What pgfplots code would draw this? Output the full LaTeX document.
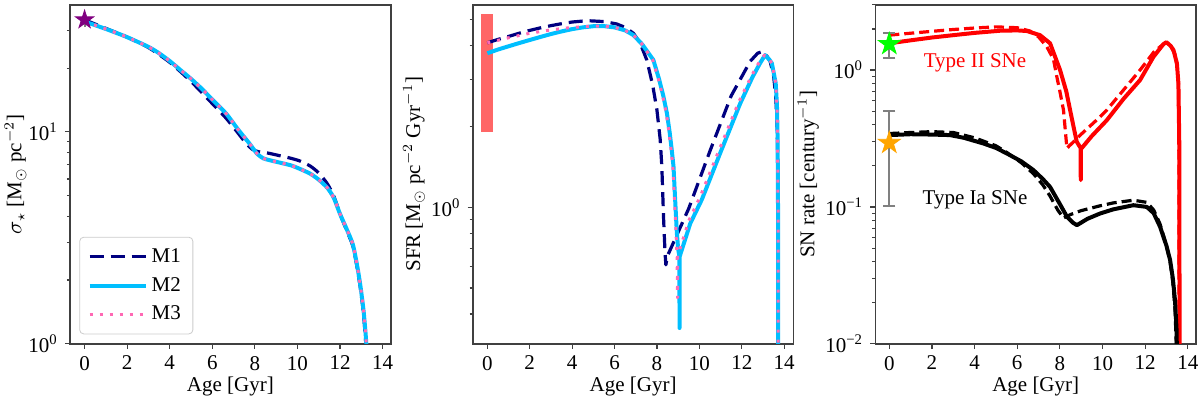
\documentclass[border=0pt]{standalone}
\usepackage{fontspec}
\setmainfont{Liberation Serif}
\usepackage{pgfplots}
\pgfplotsset{compat=1.18}

\definecolor{mone}{RGB}{0,0,128}
\definecolor{mtwo}{RGB}{0,191,255}
\definecolor{mthree}{RGB}{255,105,180}
\definecolor{obsbar}{RGB}{255,102,102}
\definecolor{starlime}{RGB}{0,255,0}
\definecolor{starorange}{RGB}{255,165,0}
\definecolor{starpurple}{RGB}{128,0,128}
\newcommand{\fs}{\fontsize{10.5}{12}\selectfont}

% filled five-pointed star
\pgfdeclareplotmark{fstar}{%
  \pgfpathmoveto{\pgfpointpolar{90}{\pgfplotmarksize}}%
  \pgfpathlineto{\pgfpointpolar{126}{0.382\pgfplotmarksize}}%
  \pgfpathlineto{\pgfpointpolar{162}{\pgfplotmarksize}}%
  \pgfpathlineto{\pgfpointpolar{198}{0.382\pgfplotmarksize}}%
  \pgfpathlineto{\pgfpointpolar{234}{\pgfplotmarksize}}%
  \pgfpathlineto{\pgfpointpolar{270}{0.382\pgfplotmarksize}}%
  \pgfpathlineto{\pgfpointpolar{306}{\pgfplotmarksize}}%
  \pgfpathlineto{\pgfpointpolar{342}{0.382\pgfplotmarksize}}%
  \pgfpathlineto{\pgfpointpolar{18}{\pgfplotmarksize}}%
  \pgfpathlineto{\pgfpointpolar{54}{0.382\pgfplotmarksize}}%
  \pgfpathclose
  \pgfusepathqfillstroke}

\tikzset{
  dashA/.style={line width=1.6pt, dash pattern=on 7pt off 3.5pt},
  dashB/.style={line width=1.6pt, dash pattern=on 5pt off 2.5pt},
  solidA/.style={line width=2pt},
  dotA/.style={line width=1.5pt, dash pattern=on 1.5pt off 3.5pt},
}

\pgfplotsset{
  every axis/.append style={
    scale only axis, width=160.4pt, height=169.5pt,
    xtick={0,2,4,6,8,10,12,14},
    xticklabels={0,2,4,6,8,10,12,14},
    tick pos=left, tick align=outside,
    major tick length=2.6pt, minor tick length=1.5pt,
    tick style={black!75, line width=0.6pt},
    axis line style={black!75, line width=0.8pt},
    tick label style={font=\fs},
    label style={font=\fs},
    xlabel={Age [Gyr]},
    xlabel style={at={(axis description cs:0.5,-0.127)}, anchor=center},
  },
}

\begin{document}
\begin{tikzpicture}
\useasboundingbox (0,0) rectangle (600pt,199pt);

% ---------- panel 1: stellar surface density
\begin{axis}[ymode=log, at={(35pt,27.1pt)}, anchor=south west,
    xmin=-0.685, xmax=14.385, ymin=1, ymax=39.8,
    ytick={1,10}, yticklabels={10\textsuperscript{0},10\textsuperscript{1}},
    minor ytick={2,3,4,5,6,7,8,9,20,30},
    ylabel={$\sigma_\star$ [M$_\odot$ pc$^{-2}$]},
    ylabel style={at={(axis description cs:-0.170,0.5)}, anchor=center},
    legend cell align=left,
    legend style={at={(0.029,0.028)}, anchor=south west, draw=black!20,
      rounded corners=2pt, font=\fs, inner xsep=4pt, inner ysep=3.5pt,
      row sep=2pt},
    legend image code/.code={\draw[#1] (0pt,0pt) -- (28pt,0pt);},
]
\addplot[mone, dashA, line join=round, smooth, tension=0.4] coordinates {
(0,33.8) (1,30.8) (2,28.0) (3,25.0) (4,21.3) (5,17.3) (6,13.6) (6.65,11.6)
(7.2,9.9) (7.6,8.8) (7.9,8.25) (8.2,8.05) (8.6,7.95) (9.1,7.75) (9.6,7.55)
(10.1,7.3) (10.6,6.9) (11.0,6.4) (11.4,5.7) (11.7,5.0) (12.0,4.1) (12.3,3.45)
(12.6,2.9) (12.8,2.3) (12.95,1.85) (13.1,1.4) (13.18,1.1) (13.24,0.9) (13.26,0.7)};
\addlegendentry{M1}
\addplot[mtwo, solidA, line join=round, smooth, tension=0.4] coordinates {
(0,33.2) (1,30.6) (1.5,29.3) (2,28.0) (3,25.2) (3.5,23.5) (4,21.6) (4.5,19.6)
(5,17.8) (5.5,16.0) (6,14.2) (6.65,12.2) (7.2,10.3) (7.75,8.8) (8.1,7.9)
(8.4,7.5) (8.7,7.35) (9.2,7.15) (9.7,6.95) (10.1,6.7) (10.6,6.35) (11.0,5.95)
(11.4,5.45) (11.7,4.9) (12.0,4.1) (12.3,3.5) (12.6,2.95) (12.8,2.35) (12.95,1.9)
(13.1,1.45) (13.2,1.12) (13.26,0.9) (13.28,0.7)};
\addlegendentry{M2}
\addplot[mthree, dotA, line join=round, smooth, tension=0.4] coordinates {
(0,33.2) (1,30.6) (1.5,29.3) (2,28.0) (3,25.2) (3.5,23.5) (4,21.6) (4.5,19.6)
(5,17.8) (5.5,16.0) (6,14.2) (6.65,12.2) (7.2,10.3) (7.75,8.8) (8.1,7.9)
(8.4,7.5) (8.7,7.35) (9.2,7.15) (9.7,6.95) (10.1,6.7) (10.6,6.35) (11.0,5.95)
(11.4,5.45) (11.7,4.9) (12.0,4.1) (12.3,3.5) (12.6,2.95) (12.8,2.35) (12.95,1.9)
(13.1,1.45) (13.2,1.12) (13.26,0.9) (13.28,0.7)};
\addlegendentry{M3}
\addplot[gray, line width=1pt, forget plot] coordinates {(0,31.2) (0,35)};
\addplot[only marks, mark=fstar, mark size=4.8pt, starpurple, forget plot] coordinates {(0,33.8)};
\end{axis}

% ---------- panel 2: star formation rate
\begin{axis}[ymode=log, at={(236.35pt,27.1pt)}, anchor=south west,
    xmin=-0.69, xmax=14.44, ymin=0.31, ymax=5.68,
    ytick={1}, yticklabels={10\textsuperscript{0}},
    minor ytick={0.4,0.5,0.6,0.7,0.8,0.9,2,3,4,5},
    ylabel={SFR [M$_\odot$ pc$^{-2}$ Gyr$^{-1}$]},
    ylabel style={at={(axis description cs:-0.183,0.5)}, anchor=center},
]
\addplot[obsbar, line width=5.85pt] coordinates {(0,1.91) (0,5.26)};
\addplot[mone, dashA, line join=round] coordinates {
(0,4.10) (0.5,4.22) (1,4.33) (1.5,4.45) (2,4.56) (2.5,4.66) (3,4.75) (3.5,4.83)
(4,4.90) (4.5,4.94) (4.85,4.95) (5.5,4.92) (6.1,4.82) (6.5,4.68) (6.89,4.45)
(7.2,4.1) (7.52,3.54) (7.8,2.85) (8.0,2.30) (8.15,1.8) (8.23,1.42) (8.31,0.92)
(8.38,0.68) (8.42,0.61) (8.5,0.66) (9.5,0.99) (10.5,1.62) (11.5,2.6) (12.4,3.5)
(12.75,3.75) (12.95,3.80) (13.15,3.7) (13.34,3.49) (13.5,3.1) (13.6,2.6)
(13.66,2.1) (13.7,1.5) (13.72,0.8) (13.73,0.2)};
\addplot[mtwo, solidA, line join=round] coordinates {
(0,3.75) (0.5,3.87) (1,3.98) (1.5,4.09) (2,4.2) (2.5,4.31) (3,4.42) (3.5,4.52)
(4,4.61) (4.5,4.68) (5.03,4.73) (5.5,4.73) (6,4.68) (6.5,4.56) (6.89,4.38)
(7.3,4.05) (7.83,3.54) (8.1,3.0) (8.3,2.6) (8.47,2.24) (8.6,1.9) (8.7,1.63)
(8.78,1.42) (8.86,1.06) (8.94,0.80) (9.0,0.7) (9.06,0.655) (9.065,0.355)
(9.07,0.655) (9.57,0.87) (10.12,1.07) (10.98,1.59) (11.93,2.44) (12.5,3.05)
(12.87,3.45) (13.1,3.69) (13.3,3.55) (13.42,3.44) (13.6,2.9) (13.66,2.4)
(13.69,1.8) (13.71,1.0) (13.72,0.2)};
\addplot[mthree, dotA, line join=round] coordinates {
(0,4.10) (1,4.28) (2,4.45) (3,4.58) (4,4.68) (5,4.73) (5.5,4.73) (6,4.68)
(6.5,4.56) (6.89,4.38) (7.3,4.05) (7.8,3.54) (8.07,3.0) (8.27,2.6) (8.44,2.24)
(8.57,1.9) (8.67,1.63) (8.75,1.42) (8.83,1.06) (8.9,0.80) (8.95,0.65) (8.97,0.46)
(8.98,0.66) (9.5,0.89) (10.05,1.1) (10.91,1.62) (11.86,2.47) (12.45,3.08)
(12.82,3.47) (13.07,3.69) (13.3,3.55) (13.42,3.44) (13.6,2.9) (13.66,2.4)
(13.69,1.8) (13.71,1.0) (13.72,0.2)};
\end{axis}

% ---------- panel 3: supernova rates
\begin{axis}[ymode=log, at={(437.65pt,27.1pt)}, anchor=south west,
    xmin=-0.657, xmax=14.39, ymin=0.01, ymax=3.0,
    ytick={0.01,0.1,1},
    yticklabels={10\textsuperscript{−2},10\textsuperscript{−1},10\textsuperscript{0}},
    minor ytick={0.02,0.03,0.04,0.05,0.06,0.07,0.08,0.09,0.2,0.3,0.4,0.5,0.6,0.7,0.8,0.9,2,3},
    ylabel={SN rate [century$^{-1}$]},
    ylabel style={at={(axis description cs:-0.209,0.5)}, anchor=center},
]
% Type II
\addplot[red, dashB, line join=round] coordinates {
(0,1.80) (1,1.86) (2,1.92) (3,1.98) (4,2.03) (5,2.07) (6,2.04) (6.6,1.93)
(7.0,1.75) (7.39,1.48) (7.7,1.20) (7.86,0.89) (8.0,0.7) (8.17,0.51) (8.33,0.268)
(8.45,0.28) (9.0,0.34) (9.89,0.456) (10.2,0.51) (11,0.72) (11.76,1.0) (12.4,1.35)
(12.7,1.48) (12.95,1.58) (13.2,1.5) (13.4,1.3) (13.5,1.05) (13.56,0.8) (13.58,0.3)
(13.59,0.005)};
\addplot[red, solidA, line join=round] coordinates {
(0,1.57) (1,1.65) (2,1.73) (3,1.80) (4,1.87) (5.2,1.94) (6,1.95) (6.45,1.93)
(7.07,1.80) (7.54,1.57) (8.01,1.0) (8.3,0.7) (8.48,0.51) (8.65,0.38) (8.79,0.30)
(8.97,0.27) (8.98,0.157) (8.99,0.265) (9.5,0.33) (10.2,0.43) (11,0.62)
(11.76,0.845) (12.39,1.25) (12.86,1.55) (13.0,1.6) (13.2,1.5) (13.33,1.40)
(13.49,1.12) (13.56,0.8) (13.6,0.3) (13.62,0.005)};
% Type Ia
\addplot[black, dashB, line join=round] coordinates {
(0,0.344) (1,0.35) (2,0.355) (3,0.35) (4,0.32) (5,0.28) (5.51,0.25) (6.2,0.21)
(6.76,0.175) (7.2,0.145) (7.54,0.12) (7.9,0.095) (8.17,0.083) (8.5,0.088)
(9,0.094) (9.89,0.102) (10.5,0.107) (11.45,0.112) (12.08,0.108) (12.4,0.095)
(12.7,0.075) (13.0,0.052) (13.17,0.04) (13.3,0.028) (13.4,0.018) (13.45,0.011)
(13.47,0.008)};
\addplot[black, solidA, line join=round] coordinates {
(0,0.335) (1,0.34) (2,0.338) (2.85,0.335) (3.5,0.32) (4.41,0.291) (5,0.27)
(5.51,0.246) (6.2,0.215) (6.76,0.186) (7.2,0.16) (7.54,0.140) (8.0,0.105)
(8.33,0.085) (8.6,0.077) (8.8,0.0736) (9.3,0.082) (9.89,0.0896) (10.5,0.096)
(11.45,0.103) (12.08,0.100) (12.4,0.09) (12.7,0.0716) (13.0,0.052) (13.17,0.0409)
(13.3,0.03) (13.4,0.0208) (13.47,0.013) (13.49,0.009)};
% observations
\addplot[gray, line width=1pt, mark=-, mark size=3pt] coordinates {(0,1.22) (0,1.88)};
\addplot[gray, line width=1pt, mark=-, mark size=3pt] coordinates {(0,0.101) (0,0.504)};
\addplot[only marks, mark=fstar, mark size=5.8pt, starlime] coordinates {(0,1.55)};
\addplot[only marks, mark=fstar, mark size=5.8pt, starorange] coordinates {(0,0.294)};
\node[red, font=\fs] at (axis cs:4.02,1.125) {Type II SNe};
\node[black, font=\fs] at (axis cs:4.02,0.112) {Type Ia SNe};
\end{axis}
\end{tikzpicture}
\end{document}
